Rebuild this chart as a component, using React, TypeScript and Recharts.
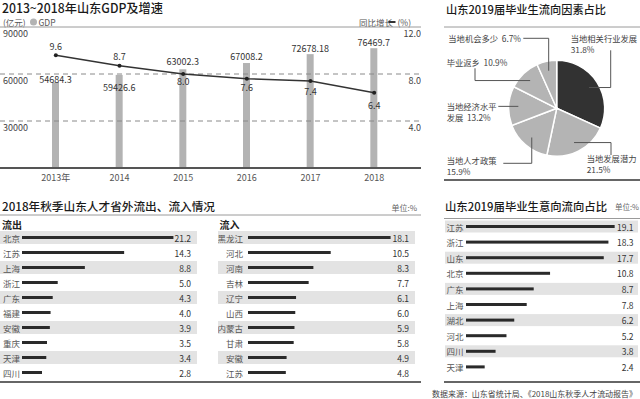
import React from 'react';
import {
  ComposedChart, Bar, Line, XAxis, YAxis, ReferenceLine,
  PieChart, Pie, Cell, BarChart,
} from 'recharts';

const FONT = '"Noto Sans CJK SC", "Noto Sans", sans-serif';

// ---------- data ----------
const gdpYears = ['2013年', '2014', '2015', '2016', '2017', '2018'];
const gdpValues = [54684.3, 59426.6, 63002.3, 67008.2, 72678.18, 76469.7];
const growthValues = [9.6, 8.7, 8.0, 7.6, 7.4, 6.4];
const gdpTicks = [30000, 60000, 90000];
const growthTicks = [4, 8, 12];

const factorNames = ['当地相关行业发展', '当地发展潜力', '当地人才政策', '当地经济水平发展', '毕业返乡', '当地机会多少'];
const factorShares = [31.8, 21.5, 15.9, 13.2, 10.9, 6.7];

const outflowNames = ['北京', '江苏', '上海', '浙江', '广东', '福建', '安徽', '重庆', '天津', '四川'];
const outflowValues = [21.2, 14.3, 8.8, 5.0, 4.3, 4.0, 3.9, 3.5, 3.4, 2.8];
const inflowNames = ['黑龙江', '河北', '河南', '吉林', '辽宁', '山西', '内蒙古', '甘肃', '安徽', '江苏'];
const inflowValues = [18.1, 10.5, 8.3, 7.7, 6.1, 6.0, 5.9, 5.8, 4.9, 4.8];
const intentNames = ['江苏', '浙江', '山东', '北京', '广东', '上海', '湖北', '河北', '四川', '天津'];
const intentValues = [19.1, 18.3, 17.7, 10.8, 8.7, 7.8, 6.2, 5.2, 3.8, 2.4];

// ---------- style config ----------
const gdpLabelDy = [-2.5, 13, -8, -6.5, -5.5, -5.5];
const growthLabelDy = [-9, -9, 7.5, 8.5, 10.5, 13];

// leader line layout, relative to pie centre
const pieLabelLayout: any[] = [
  { mode: 'hv', ex: 54, ey: -58, tx: 14, ty: -70, lines: 'stack' },
  { mode: 'hv', ex: 54.3, ey: 46.7, tx: 30, ty: 50, lines: 'stack' },
  { mode: 'vh', ex: -53.4, ey: 55, tx: -110, ty: 51.7, lines: 'stack' },
  { mode: 'h', ex: -58.4, ey: 0, tx: -110, ty: -2.3, lines: 'split6' },
  { mode: 'hv', ex: -81.7, ey: -40, tx: -110, ty: -46.6, lines: 'inline' },
  { mode: 'vh', ex: -33.4, ey: -70, tx: -108.4, ty: -70, lines: 'inline' },
];

const gdpRows = gdpYears.map((y, i) => ({ year: y, gdp: gdpValues[i], growth: growthValues[i] }));
const pieRows = factorNames.map((n, i) => ({ name: n, value: factorShares[i] }));

// ---------- GDP chart renderers ----------
const renderYearTick = (p: any) => (
  <text x={p.x} y={p.y} dy={1} textAnchor="middle" dominantBaseline="central" fontSize={9} fill="#555" style={{ fontFamily: FONT }}>
    {p.payload.value}
  </text>
);
const renderLeftTick = (p: any) => (
  <text x={3} y={p.y + 6.5} textAnchor="start" dominantBaseline="central" fontSize={9} fill="#444" style={{ fontFamily: FONT }}>
    {p.payload.value}
  </text>
);
const renderRightTick = (p: any) => (
  <text x={421} y={p.y + 6.5} textAnchor="end" dominantBaseline="central" fontSize={9} fill="#444" style={{ fontFamily: FONT }}>
    {Number(p.payload.value).toFixed(1)}
  </text>
);
const renderGdpBar = (p: any) => {
  const idx = p.index ?? gdpYears.indexOf(p.payload?.year);
  return (
    <g>
      <rect x={p.x} y={p.y} width={p.width} height={p.height} fill="#b3b3b3" />
      <text x={p.x + p.width / 2} y={p.y + gdpLabelDy[idx]} textAnchor="middle" dominantBaseline="central" fontSize={9} fill="#333" style={{ fontFamily: FONT }}>
        {String(p.payload.gdp)}
      </text>
    </g>
  );
};
const renderGrowthDot = (p: any) => {
  const idx = p.index ?? gdpYears.indexOf(p.payload?.year);
  return (
    <g key={`gd-${idx}`}>
      <circle cx={p.cx} cy={p.cy} r={2} fill="#222" />
      <text x={p.cx} y={p.cy + growthLabelDy[idx]} textAnchor="middle" dominantBaseline="central" fontSize={9} fill="#333" style={{ fontFamily: FONT }}>
        {Number(p.payload.growth).toFixed(1)}
      </text>
    </g>
  );
};

// ---------- Pie label ----------
const RAD = Math.PI / 180;
const renderPieLabel = (p: any) => {
  const i = p.index;
  const L = pieLabelLayout[i];
  const cx = p.cx, cy = p.cy;
  const r = p.outerRadius * 0.8;
  const sx = cx + r * Math.cos(-p.midAngle * RAD);
  const sy = cy + r * Math.sin(-p.midAngle * RAD);
  const ex = cx + L.ex, ey = cy + L.ey;
  let pts: number[][];
  if (L.mode === 'hv') pts = [[sx, sy], [ex, sy], [ex, ey]];
  else if (L.mode === 'vh') pts = [[sx, sy], [sx, ey], [ex, ey]];
  else pts = [[sx, sy], [ex, sy]];
  const name = pieRows[i].name;
  const pct = pieRows[i].value.toFixed(1) + '%';
  let lines: string[];
  if (L.lines === 'stack') lines = [name, pct];
  else if (L.lines === 'split6') lines = [name.slice(0, 6), name.slice(6) + '  ' + pct];
  else lines = [name + '  ' + pct];
  return (
    <g key={`pl-${i}`}>
      <polyline points={pts.map((q) => q.join(',')).join(' ')} fill="none" stroke="#555" strokeWidth={1} />
      {lines.map((t, k) => (
        <text key={k} x={cx + L.tx} y={cy + L.ty + k * 10.8} textAnchor="start" dominantBaseline="central" fontSize={8.3} fill="#444" style={{ fontFamily: FONT, whiteSpace: 'pre' }}>
          {t}
        </text>
      ))}
    </g>
  );
};

// ---------- horizontal bar panel ----------
function HBarPanel(props: any) {
  const { names, values, left, top, width, height, domainMax, barStart, labelX, labelAnchor, valueX, bandH } = props;
  const rows = names.map((n: string, i: number) => ({ name: n, value: values[i] }));
  const shape = (p: any) => {
    const idx = p.index ?? names.indexOf(p.payload?.name);
    const cy = p.y + p.height / 2;
    return (
      <g>
        {idx % 2 === 0 && <rect x={0} y={cy - bandH / 2} width={width} height={bandH} fill="#e3e3e3" />}
        <rect x={p.x} y={p.y} width={p.width} height={p.height} fill="#2a2a2a" />
        <text x={labelX} y={cy} textAnchor={labelAnchor} dominantBaseline="central" fontSize={8.5} fill="#555" style={{ fontFamily: FONT }}>
          {p.payload.name}
        </text>
        <text x={valueX} y={cy} textAnchor="end" dominantBaseline="central" fontSize={8.5} fill="#333" style={{ fontFamily: FONT }}>
          {Number(p.payload.value).toFixed(1)}
        </text>
      </g>
    );
  };
  return (
    <div style={{ position: 'absolute', left, top }}>
      <BarChart layout="vertical" width={width} height={height} data={rows} margin={{ top: 0, right: 0, bottom: 0, left: 0 }} barCategoryGap={0}>
        <XAxis type="number" hide domain={[0, domainMax]} padding={{ left: barStart, right: 0 }} />
        <YAxis type="category" dataKey="name" hide />
        <Bar dataKey="value" barSize={3} fill="#2a2a2a" shape={shape} isAnimationActive={false} />
      </BarChart>
    </div>
  );
}

const T = (p: any) => {
  const { style, ...rest } = p;
  return <text dominantBaseline="central" {...rest} style={{ fontFamily: FONT, ...(style || {}) }} />;
};

export default function App() {
  return (
    <div style={{ position: 'absolute', left: 0, top: 0, width: 640, height: 399, background: '#fff', overflow: 'hidden', fontFamily: FONT }}>
      <svg width={640} height={399} style={{ position: 'absolute', left: 0, top: 0, fontFamily: FONT }}>
        {/* GDP header */}
        <T x={2} y={7.5} fontSize={12.4} fontWeight={500} fill="#1a1a1a" textLength={161} lengthAdjust="spacingAndGlyphs">2013~2018年山东GDP及增速</T>
        <T x={3} y={22} fontSize={8.5} fill="#555">(亿元)</T>
        <circle cx={33.5} cy={22} r={3.5} fill="#b3b3b3" />
        <T x={38.5} y={22} fontSize={8.5} fill="#555">GDP</T>
        <T x={359} y={22} fontSize={8.5} fill="#555">同比增长</T>
        <line x1={388.5} y1={22} x2={395.5} y2={22} stroke="#333" strokeWidth={2} />
        <T x={397.5} y={22} fontSize={8.5} fill="#555">(%)</T>

        {/* Pie header */}
        <T x={446} y={8.5} fontSize={11.3} fontWeight={500} fill="#1a1a1a" textLength={160} lengthAdjust="spacingAndGlyphs">山东2019届毕业生流向因素占比</T>
        <line x1={444} y1={27} x2={640} y2={27} stroke="#9a9a9a" strokeWidth={1} />
        <line x1={444} y1={180} x2={640} y2={180} stroke="#666" strokeWidth={2} />

        {/* Bottom-left header */}
        <T x={2} y={205.5} fontSize={11.7} fontWeight={500} fill="#1a1a1a" textLength={213} lengthAdjust="spacingAndGlyphs">2018年秋季山东人才省外流出、流入情况</T>
        <T x={417} y={207} fontSize={8} fill="#666" textAnchor="end">单位:%</T>
        <line x1={0} y1={215} x2={421} y2={215} stroke="#9a9a9a" strokeWidth={1} />
        <T x={2} y={224.5} fontSize={10} fontWeight="bold" fill="#222">流出</T>
        <T x={219.5} y={224.5} fontSize={10} fontWeight="bold" fill="#222">流入</T>
        <line x1={0} y1={382} x2={421} y2={382} stroke="#666" strokeWidth={2} />

        {/* Bottom-right header */}
        <T x={445} y={205.5} fontSize={11.4} fontWeight={500} fill="#1a1a1a" textLength={162} lengthAdjust="spacingAndGlyphs">山东2019届毕业生意向流向占比</T>
        <T x={639} y={206.5} fontSize={7.5} fill="#666" textAnchor="end">单位:%</T>
        <line x1={444} y1={218.5} x2={640} y2={218.5} stroke="#9a9a9a" strokeWidth={1} />
        <line x1={444} y1={382} x2={640} y2={382} stroke="#666" strokeWidth={2} />

        <T x={432} y={393.5} fontSize={8.1} fill="#444" textLength={205} lengthAdjust="spacingAndGlyphs">数据来源：山东省统计局、《2018山东秋季人才流动报告》</T>
      </svg>

      {/* GDP composed chart */}
      <div style={{ position: 'absolute', left: 0, top: 0 }}>
        <ComposedChart width={421} height={190} data={gdpRows} margin={{ top: 27, right: 0, bottom: 0, left: 0 }}>
          <XAxis dataKey="year" height={22} padding={{ left: 24, right: 15 }} axisLine={false} tickLine={false} tick={renderYearTick} interval={0} />
          <YAxis yAxisId="left" domain={[0, 90000]} ticks={gdpTicks} mirror axisLine={false} tickLine={false} tick={renderLeftTick} />
          <YAxis yAxisId="right" orientation="right" domain={[0, 12]} ticks={growthTicks} mirror axisLine={false} tickLine={false} tick={renderRightTick} />
          <ReferenceLine yAxisId="left" y={90000} stroke="#9a9a9a" strokeWidth={1} />
          <ReferenceLine yAxisId="left" y={60000} stroke="#8a8a8a" strokeDasharray="5 4" />
          <ReferenceLine yAxisId="left" y={30000} stroke="#8a8a8a" strokeDasharray="5 4" />
          <Bar yAxisId="left" dataKey="gdp" barSize={7} fill="#b3b3b3" shape={renderGdpBar} isAnimationActive={false} />
          <Line yAxisId="right" dataKey="growth" stroke="#333" strokeWidth={1.5} dot={renderGrowthDot} activeDot={false} isAnimationActive={false} />
          <ReferenceLine yAxisId="left" y={0} stroke="#555" strokeWidth={2} />
        </ComposedChart>
      </div>

      {/* Pie chart */}
      <div style={{ position: 'absolute', left: 420, top: 0 }}>
        <PieChart width={220} height={190} margin={{ top: 0, right: 0, bottom: 0, left: 0 }}>
          <Pie data={pieRows} dataKey="value" nameKey="name" cx={136.7} cy={108.3} outerRadius={48} startAngle={90} endAngle={-270}
            stroke="#fff" strokeWidth={1.5} isAnimationActive={false} label={renderPieLabel} labelLine={false}>
            {pieRows.map((r, i) => (
              <Cell key={r.name} fill={i === 0 ? '#323232' : '#b4b4b4'} />
            ))}
          </Pie>
        </PieChart>
      </div>

      <HBarPanel names={outflowNames} values={outflowValues} left={0} top={230} width={197} height={150}
        domainMax={24.5} barStart={22} labelX={3} labelAnchor="start" valueX={191} bandH={13} />
      <HBarPanel names={inflowNames} values={inflowValues} left={218} top={230} width={197} height={150}
        domainMax={21.2} barStart={30} labelX={25} labelAnchor="end" valueX={191} bandH={13} />
      <HBarPanel names={intentNames} values={intentValues} left={445} top={219} width={193} height={156}
        domainMax={22.1} barStart={21} labelX={1.5} labelAnchor="start" valueX={188.5} bandH={12} />
    </div>
  );
}
